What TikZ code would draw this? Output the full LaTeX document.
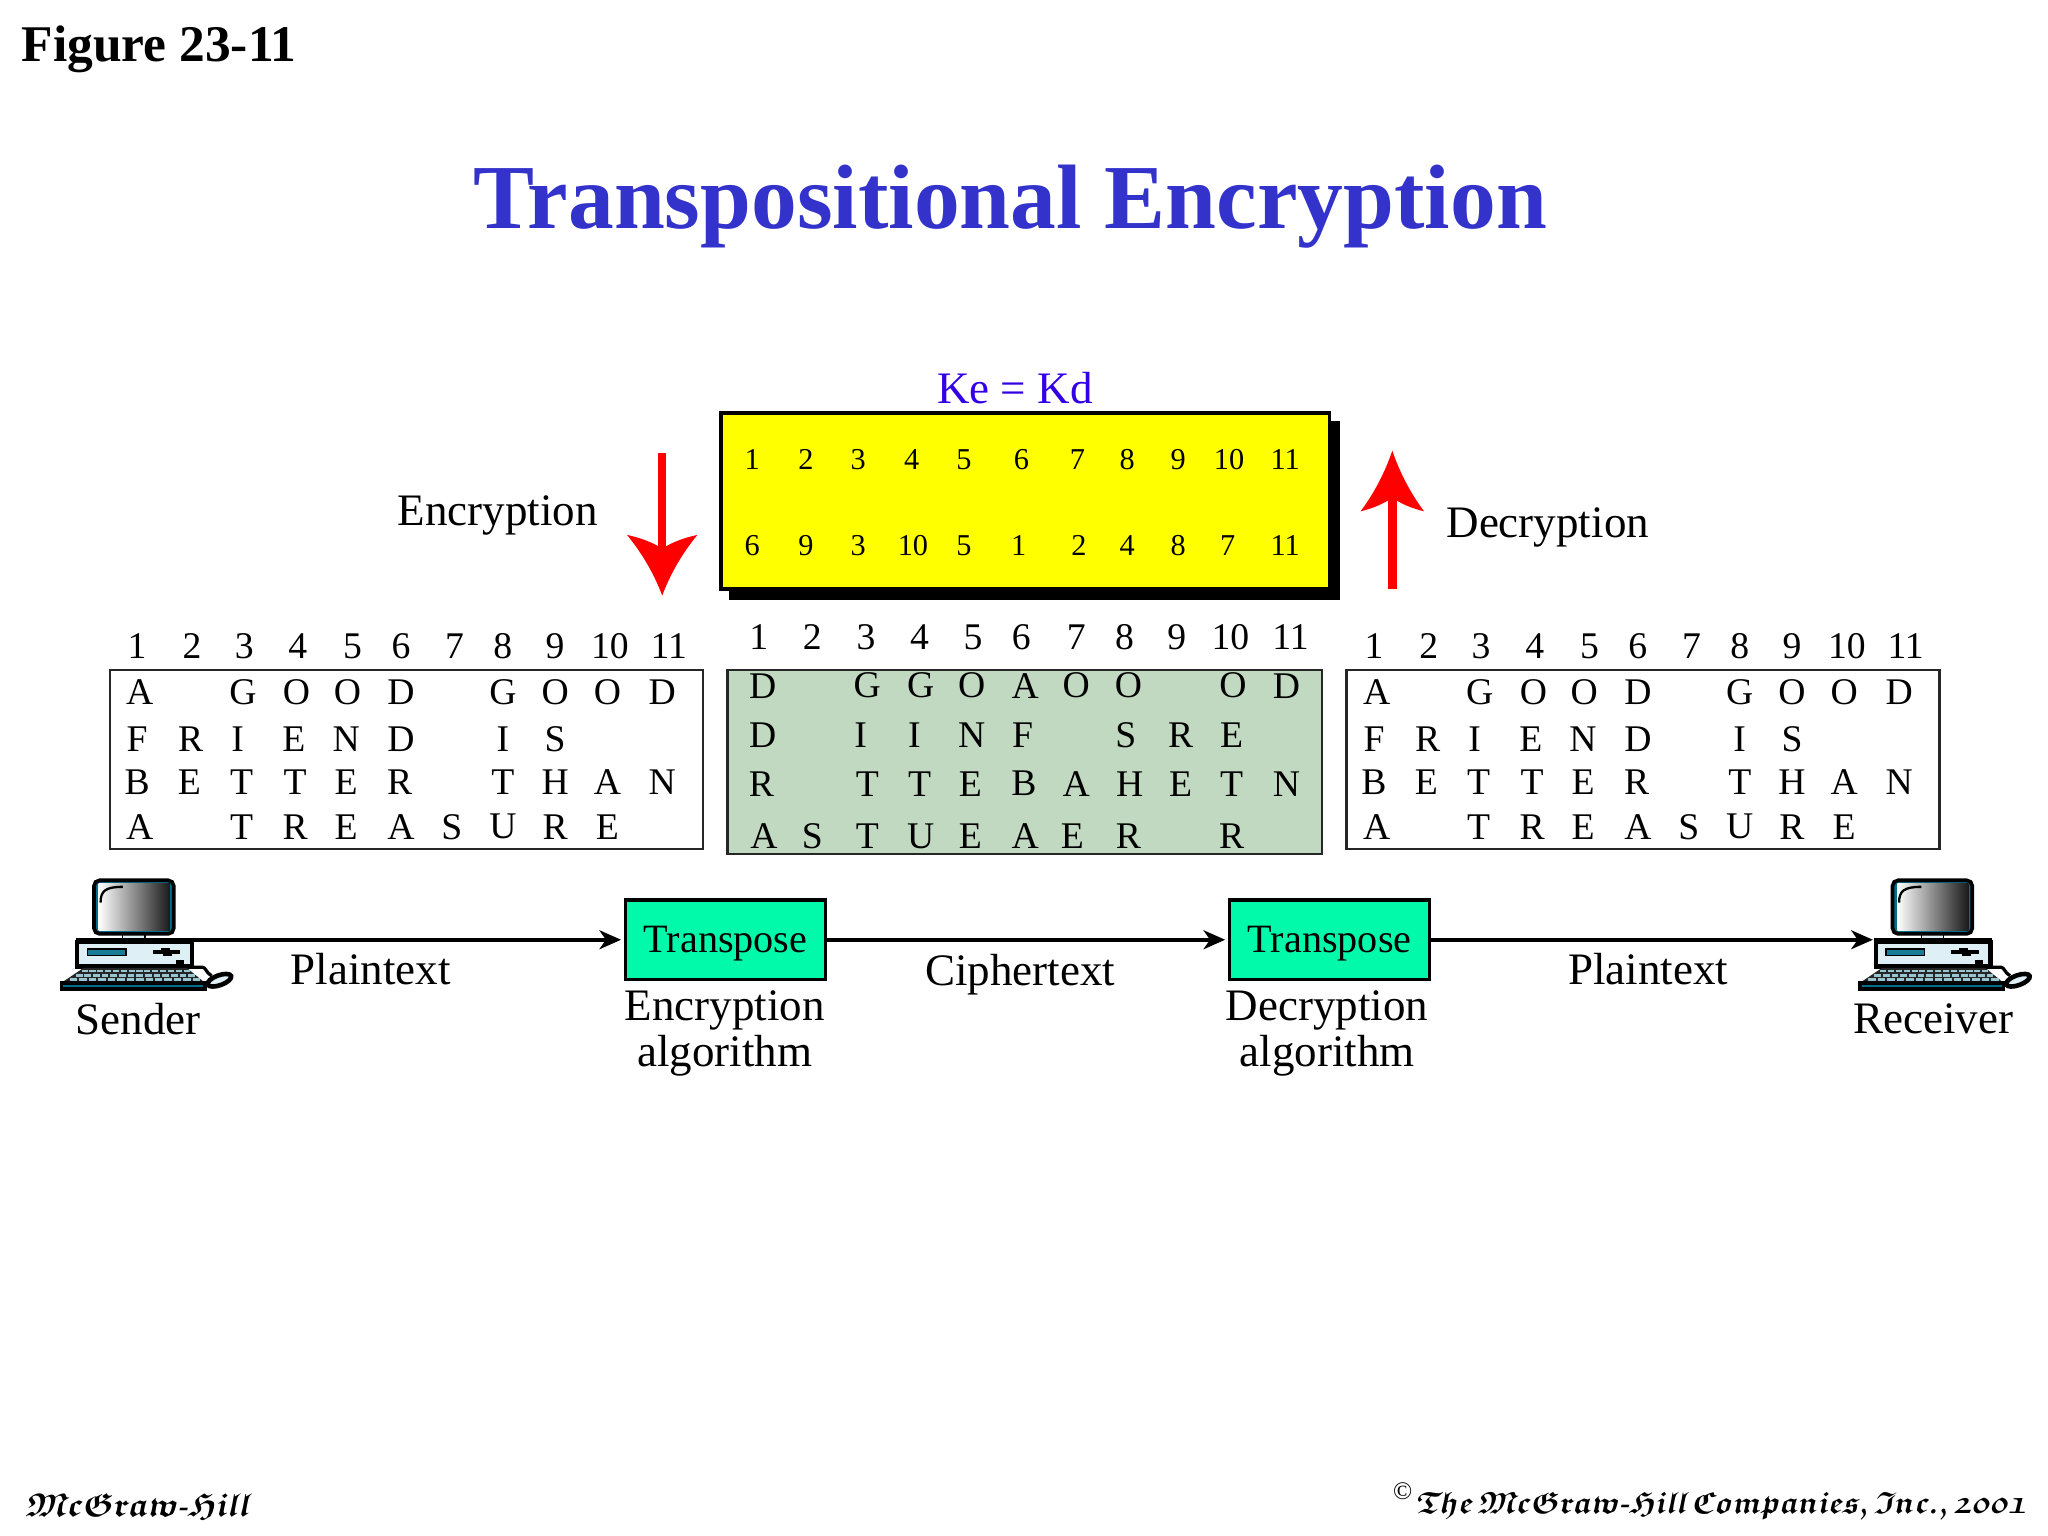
\documentclass[tikz,border=0pt]{standalone}
\usepackage{fontspec}
\usetikzlibrary{arrows.meta}
\setmainfont{Liberation Serif}
\font\frakfont=eufb10 at 7.2pt
\font\frakfontsmall=eufb10 at 6.7pt
\newcommand{\frakdash}{\hbox{\bfseries\fontsize{6.5}{7}\selectfont-}}
\newcommand{\frakgap}{\hspace{0.16em}}
\definecolor{titleblue}{RGB}{51,51,204}
\definecolor{keyblue}{RGB}{51,0,230}
\definecolor{keyyellow}{RGB}{255,255,0}
\definecolor{boxgreen}{RGB}{0,250,170}
\definecolor{tablegreen}{RGB}{193,217,193}
\definecolor{pcteal}{RGB}{0,110,140}
\definecolor{pclight}{RGB}{222,240,246}
\tikzset{
  label/.style={font=\fontsize{9.8}{10}\selectfont,inner sep=0pt},
  cell/.style={font=\fontsize{8.2}{9}\selectfont,inner sep=0pt,anchor=center},
  smallcell/.style={font=\fontsize{6.6}{7}\selectfont,inner sep=0pt},
  table/.style={draw=black!85,line width=0.5pt},
  algbox/.style={draw=black,line width=0.75pt,fill=boxgreen,minimum width=1.53cm,minimum height=0.61cm,font=\fontsize{8.75}{10}\selectfont,inner sep=0pt,text depth=-0.3pt},
  flow/.style={line width=0.9pt,shorten >=0.6pt,-{Stealth[length=4.7pt,width=4.1pt,inset=1.4pt]}},
  redline/.style={draw=red,line width=1.85pt},
  pics/redhead/.style={code={
    \fill[red] (0,0) .. controls (-6,-16) and (-15,-32) .. (-27,-46.5)
      .. controls (-16,-44) and (-8,-41) .. (0,-36)
      .. controls (8,-41) and (16,-44) .. (27,-46.5)
      .. controls (15,-32) and (6,-16) .. (0,0) -- cycle;
  }},
  pics/computer/.style={code={
    \draw[black,line width=0.5pt,fill=black] (-13,45) rectangle (75,47.5);
    \draw[black,line width=0.3pt,fill=pclight] (22,41) rectangle (39,45);
    \draw[black,line width=0.8pt,fill=pcteal,rounded corners=1.2pt] (0,0) rectangle (61,41);
    \shade[left color=white,middle color=black!22,right color=black!90] (3.6,2.8) rectangle (58,38.2);
    \draw[black,line width=0.5pt] (5,17) .. controls (5,8) and (9,5) .. (22,5);
    \draw[black,line width=0.9pt,fill=pclight] (-13,47.5) rectangle (75,66);
    \draw[black,line width=0.3pt,fill=pcteal!90] (-5,52.5) rectangle (24.5,57.6);
    \draw[black,line width=0.8pt] (45,55) -- (66,55);
    \draw[black,line width=0.5pt] (53,57) -- (60,57) (51,53) -- (58,53);
    \fill[black] (63,61) rectangle (69,64);
    \fill[black!85] (-8,67) -- (71,67) -- (85,78.5) -- (-25,78.5) -- cycle;
    \foreach \r in {0,1,2} {
      \foreach \k in {0,...,13} {
        \fill[pcteal!40] ({-9.5-\r*4.5+\k*(6+\r*0.62)},{68.4+\r*3.3}) rectangle +({4.7+\r*0.5},2);
      }
    }
    \draw[black,line width=0.8pt,fill=pcteal] (-25,78.5) rectangle (85,83);
    \draw[black,line width=0.7pt] (75,66.5) -- (83,66.5) .. controls (86,67) and (85,70) .. (90,73);
    \draw[black,line width=1pt,fill=pclight] (96,76.5) ellipse [x radius=9.5,y radius=3.8,rotate=20];
  }}
}
\begin{document}
\begin{tikzpicture}[x=0.01cm,y=-0.01cm]
  \useasboundingbox (0,0) rectangle (1568,1176);
  % headings
  \node[font=\bfseries\fontsize{11.2}{12}\selectfont,inner sep=0pt,anchor=west] (figno) at (16,38) {Figure 23-11};
  \node[font=\bfseries\fontsize{19.92}{22}\selectfont,text=titleblue,inner sep=0pt] (title) at (773.5,158) {Transpositional Encryption};

  % key table
  \node[label,text=keyblue] (key) at (777,297) {Ke = Kd};
  \fill[black] (558,322) rectangle (1026,459);
  \draw[black,line width=0.8pt,fill=keyyellow] (552,316) rectangle (1018,451);
  \foreach \x [count=\i] in {576,617,657,698,738,782,825,863,902,941,984}
    \node[smallcell] (keytop\i) at (\x,352) {\i};
  \foreach \x/\n [count=\i] in {576/6,617/9,657/3,699/10,738/5,780/1,826/2,863/4,902/8,940/7,984/11}
    \node[smallcell] (keybot\i) at (\x,418) {\n};

  % red arrows
  \coordinate (encstart) at (507,347);
  \coordinate (encend) at (507,425);
  \coordinate (decstart) at (1066,451);
  \coordinate (decend) at (1066,375);
  \draw[redline] (encstart) -- (encend);
  \draw[redline] (decstart) -- (decend);
  \pic at (507,456) {redhead};
  \pic[yscale=-1,xscale=0.9] at (1066,345) {redhead};
  \node[label] (enc) at (381,395) {Encryption};
  \node[label] (dec) at (1185,404) {Decryption};

  % plaintext tables
  \foreach \tb/\dx in {left/0,right/947} {
    \draw[table] (84+\dx,513) rectangle (538+\dx,650);
    \foreach \x [count=\i] in {105,147,187,228,270,307,348,385,425,467,512}
      \node[cell] (\tb num\i) at (\x+\dx,495) {\i};
    \foreach \x/\c [count=\i] in {107/A,186/G,227/O,266/O,307/D,385/G,425/O,465/O,507/D}
      \node[cell] (\tb a\i) at (\x+\dx,530) {\c};
    \foreach \x/\c [count=\i] in {105/F,146/R,182/I,225/E,265/N,307/D,385/I,425/S}
      \node[cell] (\tb b\i) at (\x+\dx,566) {\c};
    \foreach \x/\c [count=\i] in {105/B,145/E,185/T,226/T,265/E,306/R,385/T,425/H,465/A,507/N}
      \node[cell] (\tb c\i) at (\x+\dx,599) {\c};
    \foreach \x/\c [count=\i] in {107/A,185/T,226/R,265/E,307/A,346/S,385/U,425/R,465/E}
      \node[cell] (\tb d\i) at (\x+\dx,633) {\c};
  }

  % ciphertext table
  \draw[table,fill=tablegreen] (557,513) rectangle (1012,654);
  \foreach \x [count=\i] in {581,622,663,704,745,782,824,861,901,942,988}
    \node[cell] (midnum\i) at (\x,488) {\i};
  \foreach \x/\c [count=\i] in {584/D,664/G,705/G,744/O,785/A,824/O,864/O,944/O,985/D}
    \node[cell] (mida\i) at (\x,525) {\c};
  \foreach \x/\c [count=\i] in {584/D,659/I,700/I,744/N,783/F,862/S,904/R,943/E}
    \node[cell] (midb\i) at (\x,563) {\c};
  \foreach \x/\c [count=\i] in {583/R,664/T,704/T,743/E,784/B,824/A,865/H,904/E,943/T,985/N}
    \node[cell] (midc\i) at (\x,600) {\c};
  \foreach \x/\c [count=\i] in {585/A,622/S,664/T,705/U,743/E,785/A,821/E,864/R,943/R}
    \node[cell] (midd\i) at (\x,640) {\c};

  % flow
  \pic at (72,674) {computer};
  \pic at (1449,674) {computer};
  \coordinate (senderport) at (148,719.5);
  \coordinate (receiverport) at (1436,719.5);
  \node[algbox] (trans1) at (555.5,719.5) {Transpose};
  \node[algbox] (trans2) at (1018,719.5) {Transpose};
  \draw[flow] (senderport) -- (trans1);
  \draw[flow] (trans1) -- (trans2);
  \draw[flow] (trans2) -- (receiverport);
  \node[label] (plain1) at (284,742) {Plaintext};
  \node[label] (cipher) at (781,746) {Ciphertext};
  \node[label] (plain2) at (1262,742) {Plaintext};
  \node[label] (sender) at (106,780) {Sender};
  \node[label] (receiver) at (1480,780) {Receiver};
  \node[label,align=center] (encalg) at (555,791) {Encryption\\algorithm};
  \node[label,align=center] (decalg) at (1016,791) {Decryption\\algorithm};

  % footer
  \node[inner sep=0pt,anchor=west,xslant=0.2,transform shape] (pub) at (20,1153) {\frakfont McGraw\frakdash Hill};
  \node[inner sep=0pt,font=\fontsize{5.5}{6}\selectfont] (copymark) at (1074,1142) {\copyright};
  \node[inner sep=0pt,anchor=east,xslant=0.2,transform shape] (copy) at (1553,1153) {\frakfontsmall The\frakgap McGraw\frakdash Hill\frakgap Companies,\frakgap Inc.,\frakgap 2001};
\end{tikzpicture}
\end{document}
